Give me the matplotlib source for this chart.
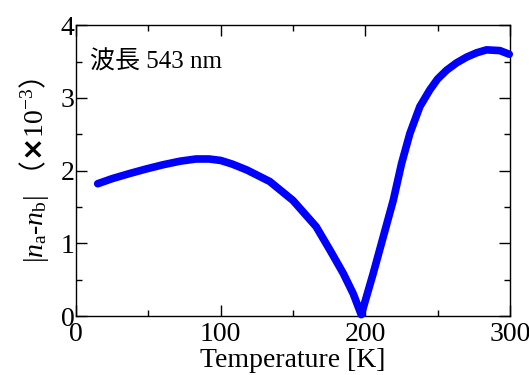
import matplotlib
matplotlib.use('Agg')
import matplotlib.pyplot as plt
from matplotlib.ticker import MultipleLocator

plt.rcParams['font.family'] = ['Liberation Serif', 'Noto Sans CJK JP']
plt.rcParams['mathtext.fontset'] = 'custom'
plt.rcParams['mathtext.rm'] = 'Liberation Serif'
plt.rcParams['mathtext.it'] = 'Liberation Serif:italic'
plt.rcParams['mathtext.bf'] = 'DejaVu Sans:bold'
plt.rcParams['mathtext.sf'] = 'Noto Sans CJK JP'

# temperature [K] and |na - nb| (x10^-3)
temperature = [15, 25, 37, 48, 60, 72, 83, 92, 100, 108, 118, 134, 150, 166, 175.5,
               184.7, 191.6, 197.2, 205.5, 212.4, 219.3, 225.1, 230.8, 237.7,
               244.6, 250, 256.2, 263, 270, 277, 283.8, 293, 299.5]
birefringence = [1.82, 1.89, 1.96, 2.02, 2.08, 2.13, 2.16, 2.16, 2.14, 2.09, 2.01,
                 1.85, 1.59, 1.23, 0.91, 0.59, 0.31, 0.02, 0.59, 1.09, 1.59, 2.10,
                 2.51, 2.88, 3.11, 3.26, 3.38, 3.48, 3.56, 3.62, 3.66, 3.65, 3.60]

fig = plt.figure(figsize=(5.29, 3.75), dpi=100)
ax = fig.add_axes([0.1437, 0.157, 0.8203, 0.776])

ax.plot(temperature, birefringence, color='#0000ff', lw=5.5,
        solid_capstyle='round', solid_joinstyle='round', clip_on=False, zorder=3)

ax.set_xlim(0, 300)
ax.set_ylim(0, 4)
ax.xaxis.set_major_locator(MultipleLocator(100))
ax.xaxis.set_minor_locator(MultipleLocator(50))
ax.yaxis.set_major_locator(MultipleLocator(1))
ax.yaxis.set_minor_locator(MultipleLocator(0.5))
ax.tick_params(which='both', direction='in', top=True, right=True, width=1.0)
ax.tick_params(which='major', length=8, labelsize=20)
ax.tick_params(which='minor', length=4.3)
ax.tick_params(axis='x', pad=4)
ax.tick_params(axis='y', pad=1)
for s in ax.spines.values():
    s.set_linewidth(1.0)

ax.set_xlabel('Temperature [K]', fontsize=20, labelpad=1)
ax.set_ylabel(r'$|n_\mathrm{a}$-$n_\mathrm{b}|$ $\mathsf{（}\mathbf{\times}\mathrm{10}^{-3}\mathsf{）}$',
              fontsize=20, labelpad=7)

ax.text(10, 3.5, '波長 543 nm', fontsize=18, va='center', ha='left')

fig.savefig('out.png', dpi=100)
